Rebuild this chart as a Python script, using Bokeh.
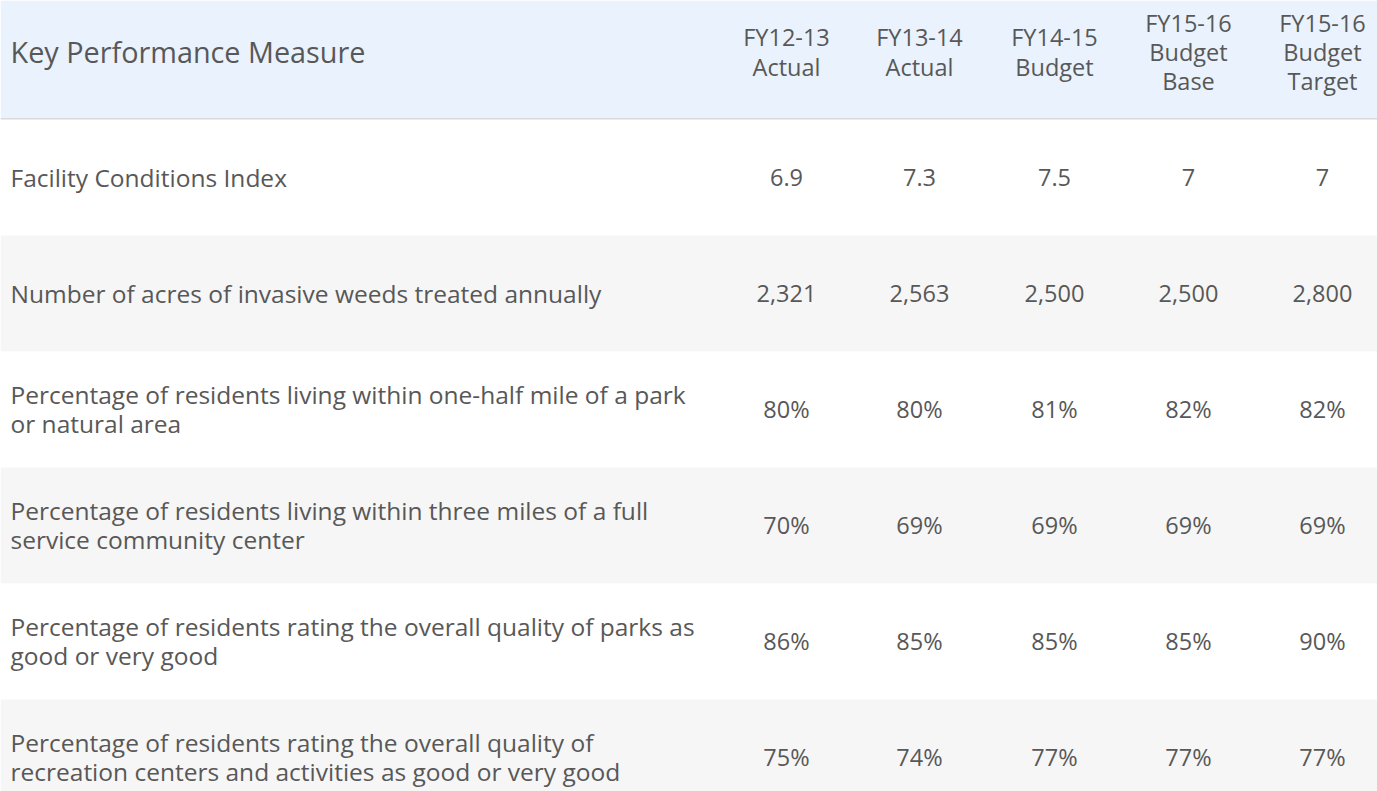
from bokeh.plotting import figure
from bokeh.models import Range1d
from bokeh.core.properties import value
from bokeh.embed import file_html
from bokeh.resources import INLINE

# ---- data ----
header_first = "Key Performance Measure"
column_labels = ["FY12-13\nActual", "FY13-14\nActual", "FY14-15\nBudget",
                 "FY15-16\nBudget\nBase", "FY15-16\nBudget\nTarget"]
measures = [
    "Facility Conditions Index",
    "Number of acres of invasive weeds treated annually",
    "Percentage of residents living within one-half mile of a park\nor natural area",
    "Percentage of residents living within three miles of a full\nservice community center",
    "Percentage of residents rating the overall quality of parks as\ngood or very good",
    "Percentage of residents rating the overall quality of\nrecreation centers and activities as good or very good",
]
fy12_13_actual = ["6.9", "2,321", "80%", "70%", "86%", "75%"]
fy13_14_actual = ["7.3", "2,563", "80%", "69%", "85%", "74%"]
fy14_15_budget = ["7.5", "2,500", "81%", "69%", "85%", "77%"]
fy15_16_base = ["7", "2,500", "82%", "69%", "85%", "77%"]
fy15_16_target = ["7", "2,800", "82%", "69%", "90%", "77%"]

# ---- layout (pixel-like coordinates) ----
FONT = "Open Sans"
TXT = "#585858"
W, H = 1377, 791
col_x = [786, 919, 1054, 1188, 1322]
header_h = 118
row_top0 = 120
row_h = 116
n = len(measures)

p = figure(width=W, height=H, output_backend="svg", toolbar_location=None,
           x_range=Range1d(0, W), y_range=Range1d(H, 0),
           min_border=0, outline_line_color=None, background_fill_color="white")
p.axis.visible = False
p.grid.visible = False

# header background + separator
p.quad(left=[0], right=[W], top=[0], bottom=[header_h], fill_color="#EAF2FD", line_color=None)
p.quad(left=[0], right=[W], top=[header_h - 0.5], bottom=[row_top0], fill_color="#D9D9D9", line_color=None)

# row backgrounds
tops = [row_top0 + i * row_h - 1 for i in range(n)]
bottoms = [t + row_h for t in tops]
fills = ["#FFFFFF" if i % 2 == 0 else "#F6F6F6" for i in range(n)]
p.quad(left=[0] * n, right=[W] * n, top=tops, bottom=bottoms, fill_color=fills, line_color=None)

# header texts
p.text(x=[10], y=[51], text=[header_first], text_font=value(FONT), text_font_size="28.8px",
       text_color=TXT, text_baseline="middle", text_align="left")
p.text(x=col_x, y=[51.5] * 5, text=column_labels, text_font=value(FONT), text_font_size="23.5px",
       text_color=TXT, text_baseline="middle", text_align="center", text_line_height=0.91)

# row texts
centers = [t + row_h / 2 - 0.5 for t in tops]
p.text(x=[10] * n, y=centers, text=measures, text_font=value(FONT), text_font_size="24.5px",
       text_color=TXT, text_baseline="middle", text_align="left", text_line_height=0.87)

for cx, col in zip(col_x, [fy12_13_actual, fy13_14_actual, fy14_15_budget, fy15_16_base, fy15_16_target]):
    p.text(x=[cx] * n, y=centers, text=col, text_font=value(FONT), text_font_size="23.5px",
           text_color=TXT, text_baseline="middle", text_align="center")

open("out.html", "w").write(file_html(p, INLINE))
